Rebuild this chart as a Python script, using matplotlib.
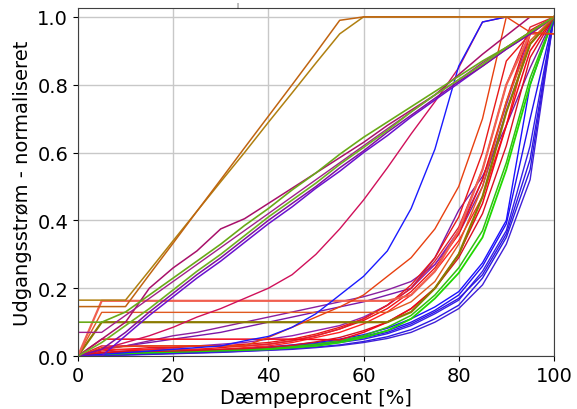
import numpy as np
import matplotlib
matplotlib.use("Agg")
import matplotlib.pyplot as plt

# dimming level [%], sampled every 5 %
daempning = list(range(0, 105, 5))

# fast curves that saturate around 55-60 %
brun_1 = [0.146, 0.146, 0.146, 0.24, 0.333, 0.427, 0.52, 0.614, 0.707, 0.80, 0.894, 0.99, 1, 1, 1, 1, 1, 1, 1, 1, 1]
brun_2 = [0.165, 0.165, 0.165, 0.252, 0.34, 0.427, 0.514, 0.60, 0.689, 0.776, 0.864, 0.95, 1, 1, 1, 1, 1, 1, 1, 1, 1]

# nearly linear curves
lin_groen_1 = [0.10, 0.10, 0.13, 0.18, 0.23, 0.28, 0.33, 0.385, 0.435, 0.49, 0.54, 0.595, 0.645, 0.69, 0.735, 0.78, 0.825, 0.87, 0.91, 0.955, 1]
lin_groen_2 = [0, 0.04, 0.09, 0.14, 0.195, 0.25, 0.30, 0.355, 0.41, 0.46, 0.51, 0.565, 0.615, 0.665, 0.72, 0.77, 0.815, 0.86, 0.91, 0.955, 1]
lin_lilla_1 = [0, 0.02, 0.07, 0.13, 0.185, 0.24, 0.29, 0.345, 0.40, 0.45, 0.50, 0.555, 0.605, 0.66, 0.71, 0.76, 0.81, 0.855, 0.905, 0.95, 1]
lin_lilla_2 = [0, 0, 0.06, 0.12, 0.175, 0.23, 0.28, 0.335, 0.39, 0.44, 0.495, 0.545, 0.60, 0.65, 0.705, 0.755, 0.805, 0.855, 0.905, 0.95, 1]
lin_magenta = [0.07, 0.07, 0.12, 0.17, 0.22, 0.27, 0.32, 0.37, 0.42, 0.47, 0.52, 0.57, 0.62, 0.67, 0.72, 0.77, 0.815, 0.865, 0.91, 0.955, 1]
bule_magenta = [0, 0.05, 0.10, 0.20, 0.26, 0.31, 0.375, 0.405, 0.45, 0.495, 0.54, 0.585, 0.63, 0.68, 0.725, 0.77, 0.83, 0.89, 0.945, 1, 1]

# curves that reach full output at 85-90 %
blaa_hurtig = [0, 0.005, 0.01, 0.015, 0.02, 0.025, 0.03, 0.045, 0.058, 0.085, 0.125, 0.18, 0.235, 0.31, 0.435, 0.61, 0.855, 0.985, 1, 1, 1]
karmin = [0, 0.02, 0.04, 0.06, 0.085, 0.115, 0.14, 0.17, 0.20, 0.24, 0.30, 0.375, 0.46, 0.555, 0.655, 0.75, 0.85, 0.985, 1, 1, 1]
orangeroed = [0, 0.025, 0.028, 0.03, 0.03, 0.03, 0.03, 0.03, 0.055, 0.085, 0.115, 0.145, 0.18, 0.235, 0.29, 0.375, 0.50, 0.70, 1.0, 0.955, 0.95]

# curves with a plateau at low dimming
trin_laks = [0, 0.163, 0.163, 0.163, 0.163, 0.163, 0.163, 0.163, 0.163, 0.163, 0.163, 0.163, 0.163, 0.163, 0.18, 0.25, 0.37, 0.55, 0.80, 0.95, 1]
trin_orange = [0, 0.129, 0.129, 0.129, 0.129, 0.129, 0.129, 0.129, 0.129, 0.129, 0.129, 0.129, 0.129, 0.129, 0.16, 0.22, 0.33, 0.50, 0.75, 0.93, 1]
trin_oliven = [0, 0.10, 0.10, 0.10, 0.10, 0.10, 0.10, 0.10, 0.10, 0.10, 0.10, 0.10, 0.10, 0.10, 0.13, 0.20, 0.30, 0.47, 0.72, 0.92, 1]
trin_roed = [0, 0.05, 0.05, 0.05, 0.05, 0.05, 0.05, 0.05, 0.05, 0.05, 0.049, 0.048, 0.07, 0.10, 0.14, 0.20, 0.30, 0.45, 0.68, 0.90, 1]

# exponential bundle - red
roed_1 = [0, 0.01, 0.015, 0.02, 0.02, 0.02, 0.025, 0.03, 0.035, 0.045, 0.06, 0.08, 0.105, 0.14, 0.19, 0.26, 0.36, 0.52, 0.75, 0.96, 1]
roed_2 = [0, 0.015, 0.02, 0.025, 0.025, 0.03, 0.03, 0.035, 0.04, 0.05, 0.065, 0.085, 0.11, 0.15, 0.21, 0.29, 0.41, 0.60, 0.87, 0.95, 0.95]
roed_3 = [0, 0.02, 0.02, 0.02, 0.02, 0.02, 0.02, 0.025, 0.03, 0.04, 0.055, 0.07, 0.095, 0.13, 0.18, 0.25, 0.34, 0.47, 0.68, 0.95, 1]
roed_4 = [0, 0.03, 0.03, 0.03, 0.03, 0.03, 0.03, 0.03, 0.035, 0.045, 0.06, 0.08, 0.11, 0.15, 0.20, 0.28, 0.38, 0.55, 0.80, 0.97, 1]
roed_5 = [0, 0.01, 0.012, 0.014, 0.015, 0.017, 0.02, 0.022, 0.026, 0.032, 0.042, 0.055, 0.075, 0.10, 0.14, 0.20, 0.29, 0.42, 0.62, 0.88, 1]

# exponential bundle - purple
lilla_1 = [0, 0.02, 0.03, 0.04, 0.05, 0.06, 0.07, 0.085, 0.10, 0.115, 0.13, 0.145, 0.16, 0.18, 0.20, 0.29, 0.43, 0.53, 0.68, 0.85, 1]
lilla_2 = [0, 0.02, 0.03, 0.045, 0.06, 0.07, 0.085, 0.10, 0.115, 0.13, 0.145, 0.16, 0.175, 0.195, 0.22, 0.27, 0.36, 0.50, 0.72, 0.92, 1]
lilla_3 = [0, 0.01, 0.015, 0.02, 0.025, 0.03, 0.035, 0.04, 0.05, 0.06, 0.075, 0.09, 0.115, 0.15, 0.20, 0.27, 0.37, 0.52, 0.74, 0.95, 1]

# exponential bundle - green
groen_1 = [0, 0.005, 0.008, 0.01, 0.012, 0.014, 0.016, 0.018, 0.02, 0.025, 0.03, 0.04, 0.055, 0.075, 0.11, 0.17, 0.245, 0.35, 0.55, 0.80, 1]
groen_2 = [0, 0.01, 0.012, 0.015, 0.015, 0.016, 0.018, 0.02, 0.022, 0.028, 0.035, 0.045, 0.06, 0.085, 0.12, 0.18, 0.26, 0.37, 0.57, 0.82, 1]

# exponential bundle - blue
blaa_1 = [0, 0.002, 0.004, 0.006, 0.008, 0.01, 0.012, 0.015, 0.018, 0.022, 0.027, 0.033, 0.043, 0.057, 0.078, 0.11, 0.15, 0.23, 0.35, 0.55, 1]
blaa_2 = [0, 0.003, 0.005, 0.007, 0.009, 0.011, 0.014, 0.017, 0.021, 0.026, 0.032, 0.04, 0.05, 0.066, 0.09, 0.125, 0.165, 0.25, 0.37, 0.62, 1]
blaa_3 = [0, 0.004, 0.006, 0.008, 0.01, 0.013, 0.016, 0.02, 0.024, 0.03, 0.037, 0.046, 0.058, 0.075, 0.10, 0.135, 0.18, 0.265, 0.39, 0.70, 1]
blaa_4 = [0, 0.002, 0.003, 0.005, 0.007, 0.009, 0.011, 0.014, 0.017, 0.02, 0.025, 0.031, 0.04, 0.052, 0.07, 0.10, 0.14, 0.21, 0.33, 0.52, 1]
blaa_5 = [0, 0.005, 0.007, 0.009, 0.012, 0.015, 0.018, 0.022, 0.027, 0.033, 0.04, 0.05, 0.063, 0.082, 0.11, 0.145, 0.19, 0.275, 0.40, 0.80, 1]
blaa_6 = [0, 0.003, 0.005, 0.007, 0.009, 0.012, 0.015, 0.018, 0.022, 0.027, 0.034, 0.043, 0.054, 0.07, 0.095, 0.13, 0.17, 0.24, 0.36, 0.58, 1]

kurver = [
    (blaa_1, '#2a1ae0', 1.0), (blaa_2, '#3320e8', 1.0), (blaa_3, '#2010f0', 1.0),
    (blaa_4, '#4020d8', 1.0), (blaa_5, '#1a10ff', 1.0), (blaa_6, '#3018e0', 1.0),
    (groen_1, '#20d800', 1.3), (groen_2, '#30c010', 1.1),
    (lilla_1, '#7a18a8', 1.0), (lilla_2, '#8a20a0', 1.0), (lilla_3, '#9020b0', 1.0),
    (roed_1, '#f01010', 1.0), (roed_2, '#e81818', 1.0), (roed_3, '#ff2020', 1.0),
    (roed_4, '#e02030', 1.0), (roed_5, '#d81020', 1.0),
    (trin_roed, '#f00818', 1.1), (trin_oliven, '#8a7a00', 1.6),
    (trin_orange, '#e05a20', 1.0), (trin_laks, '#f06050', 1.6),
    (orangeroed, '#e84010', 1.0), (karmin, '#d0105a', 1.0), (blaa_hurtig, '#1a1aff', 1.0),
    (bule_magenta, '#a8106a', 1.1), (lin_magenta, '#a0208a', 1.0),
    (lin_lilla_2, '#6a10d0', 1.1), (lin_lilla_1, '#8010a0', 1.1),
    (lin_groen_2, '#70b020', 1.2), (lin_groen_1, '#6aaa18', 1.2),
    (brun_2, '#b08010', 1.1), (brun_1, '#c06410', 1.1),
]

fig = plt.figure(figsize=(5.77, 4.10), dpi=100)
ax = fig.add_axes([0.135, 0.129, 0.825, 0.848])

for y, farve, lw in kurver:
    ax.plot(daempning, y, color=farve, lw=lw)

ax.set_xlim(0, 100)
ax.set_ylim(0, 1.025)
ax.set_xticks([0, 20, 40, 60, 80, 100])
ax.set_yticks([0.0, 0.2, 0.4, 0.6, 0.8, 1.0])
ax.tick_params(labelsize=14)
ax.grid(True, color='#c8c8c8', lw=1.0)
ax.set_axisbelow(True)
for s in ax.spines.values():
    s.set_color('#404040')

ax.set_xlabel("Dæmpeprocent [%]", fontsize=14, labelpad=2)
ax.set_ylabel("Udgangsstrøm - normaliseret", fontsize=14, labelpad=4)
fig.text(237 / 577, 1 - 5 / 410, "|", fontsize=4, ha='center', va='center')

fig.savefig("out.png", dpi=100)
